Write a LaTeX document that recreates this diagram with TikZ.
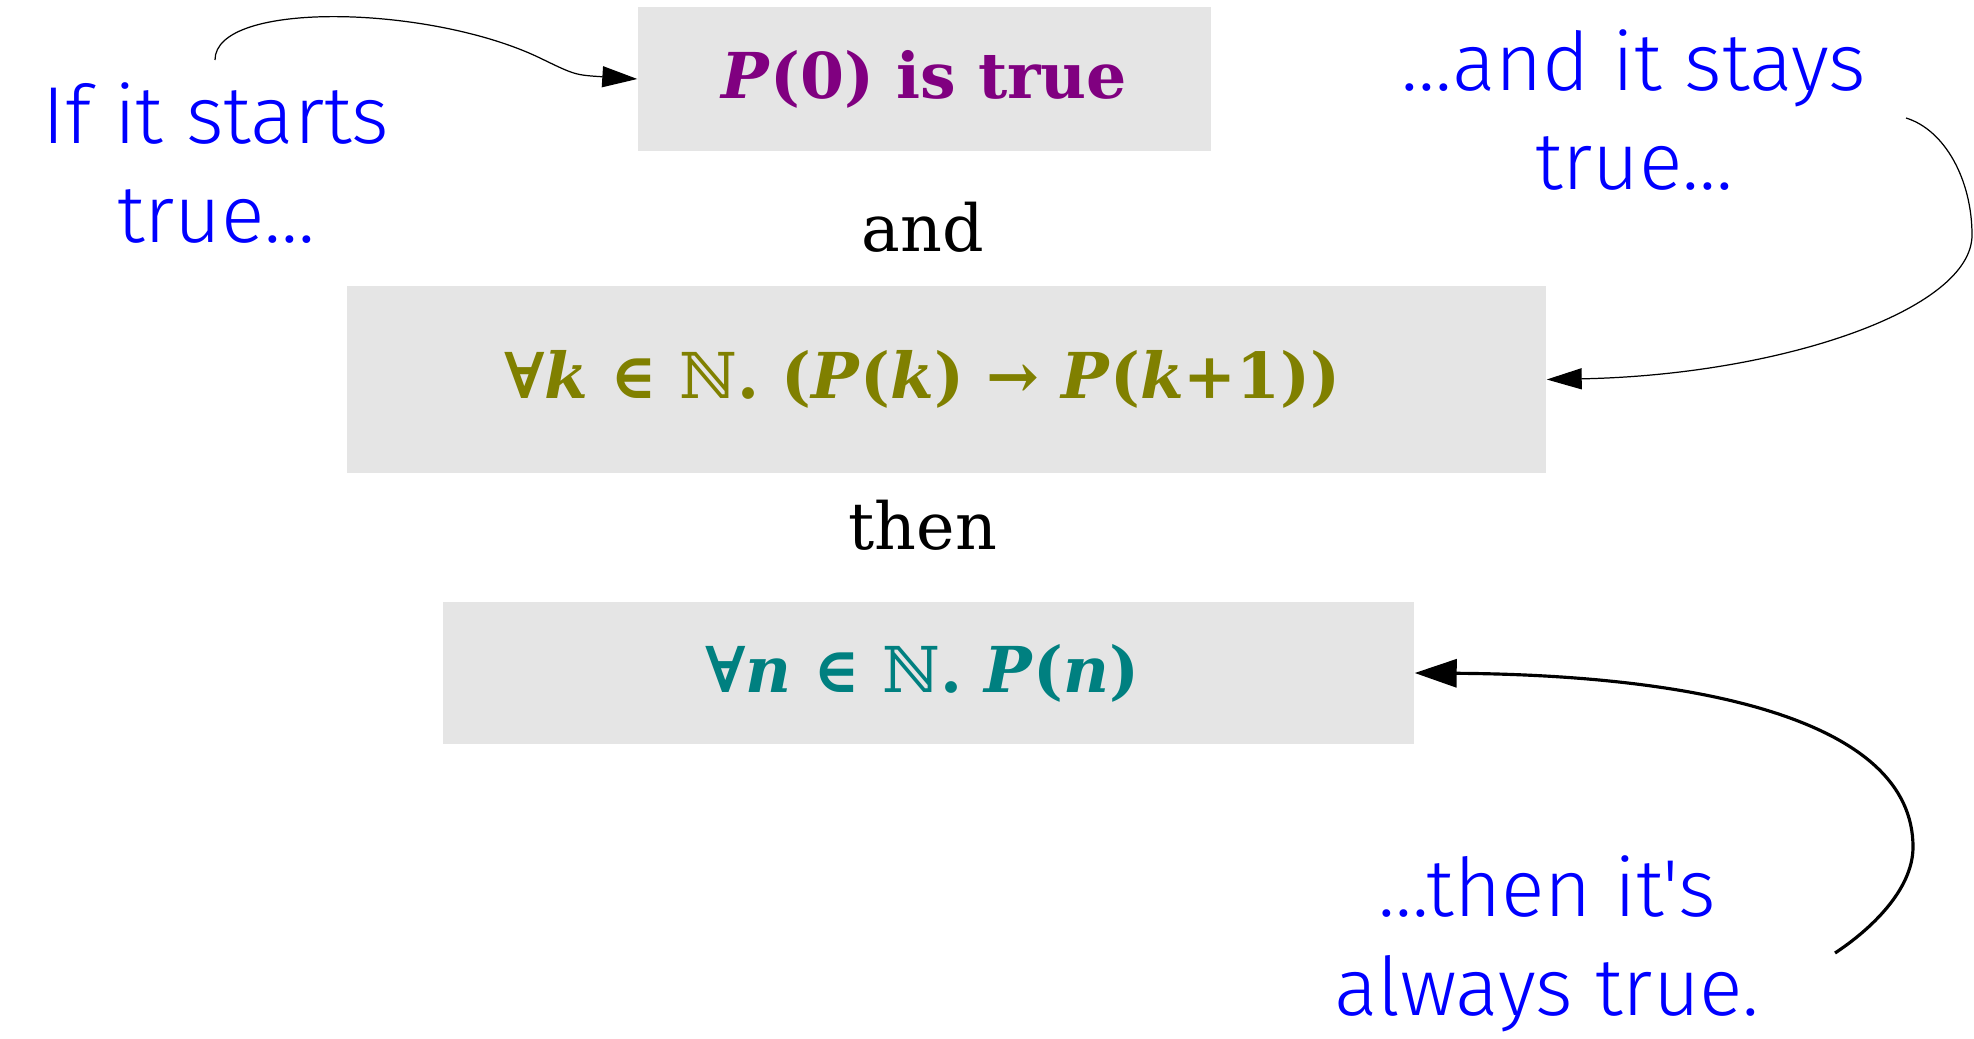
\documentclass[tikz,border=0pt]{standalone}
\usepackage{fontspec}
\setmainfont{DejaVu Serif}
\newfontfamily\handfont{Fira Sans Light}
\usetikzlibrary{arrows.meta}

\definecolor{boxgray}{RGB}{229,229,229}
\definecolor{basecol}{RGB}{128,0,128}
\definecolor{stepcol}{RGB}{128,128,0}
\definecolor{conccol}{RGB}{0,128,128}
\definecolor{notecol}{RGB}{0,0,255}

\newcommand{\mv}[1]{\textit{#1}}

\begin{document}
\begin{tikzpicture}[
  %% Node styles
  claim/.style={
    fill=boxgray, inner sep=0pt, align=center,
    font=\fontsize{18}{22}\selectfont\bfseries
  },
  joiner/.style={inner sep=0pt, font=\fontsize{18.5}{22}\selectfont},
  note/.style={
    text=notecol, align=center, inner sep=0pt,
    font=\handfont\fontsize{23}{28}\selectfont
  },
  %% Arrow styles
  thinarrow/.style={-{Triangle[length=3.5mm, width=2.1mm]}, line width=0.35pt},
  thickarrow/.style={-{Triangle[length=4.2mm, width=2.8mm]}, line width=0.9pt},
]

\path[use as bounding box, fill=white] (0,0) rectangle (19.74,-10.39);

%% ── CLAIMS ────────────────────────────────────────────────────────────────
\node[claim, text=basecol, minimum width=5.73cm, minimum height=1.435cm]
  (basecase) at (9.245,-0.79) {\mv{P}(0) is true};
\node[joiner] (andword) at (9.23,-2.27) {and};
\node[claim, text=stepcol, minimum width=11.99cm, minimum height=1.87cm]
  (induct) at (9.465,-3.795)
  {∀\mv{k} ∈ {\mdseries ℕ}. (\mv{P}(\mv{k}) → \mv{P}(\mv{k}+1))\hspace{0.48cm}};
\node[joiner] (thenword) at (9.23,-5.25) {then};
\node[claim, text=conccol, minimum width=9.71cm, minimum height=1.42cm]
  (concl) at (9.285,-6.73) {∀\mv{n} ∈ {\mdseries ℕ}. \mv{P}(\mv{n})\hspace{0.12cm}};

%% ── NOTES ─────────────────────────────────────────────────────────────────
\node[note] (startnote)  at (2.16,-1.63)  {If it starts\\true…};
\node[note] (staysnote)  at (16.34,-1.10) {…and it stays\\true…};
\node[note] (alwaysnote) at (15.47,-9.44) {…then it's\\always true.};

%% ── ARROWS ────────────────────────────────────────────────────────────────
\coordinate (startfrom)  at (2.15,-0.60);
\coordinate (staysfrom)  at (19.06,-1.18);
\coordinate (alwaysfrom) at (18.35,-9.53);

\draw[thinarrow] (startfrom) .. controls (2.15,0.0) and (4.30,-0.05) .. (5.40,-0.58)
  .. controls (5.75,-0.75) .. (basecase.west);
\draw[thinarrow] (staysfrom) .. controls (19.45,-1.30) and (19.72,-1.80) .. (19.72,-2.35)
  .. controls (19.72,-3.10) and (17.80,-3.75) .. (induct.east);
\draw[thickarrow] (alwaysfrom) .. controls (18.70,-9.30) and (19.13,-8.90) .. (19.13,-8.47)
  .. controls (19.13,-7.20) and (17.00,-6.75) .. (concl.east);

\end{tikzpicture}
\end{document}
